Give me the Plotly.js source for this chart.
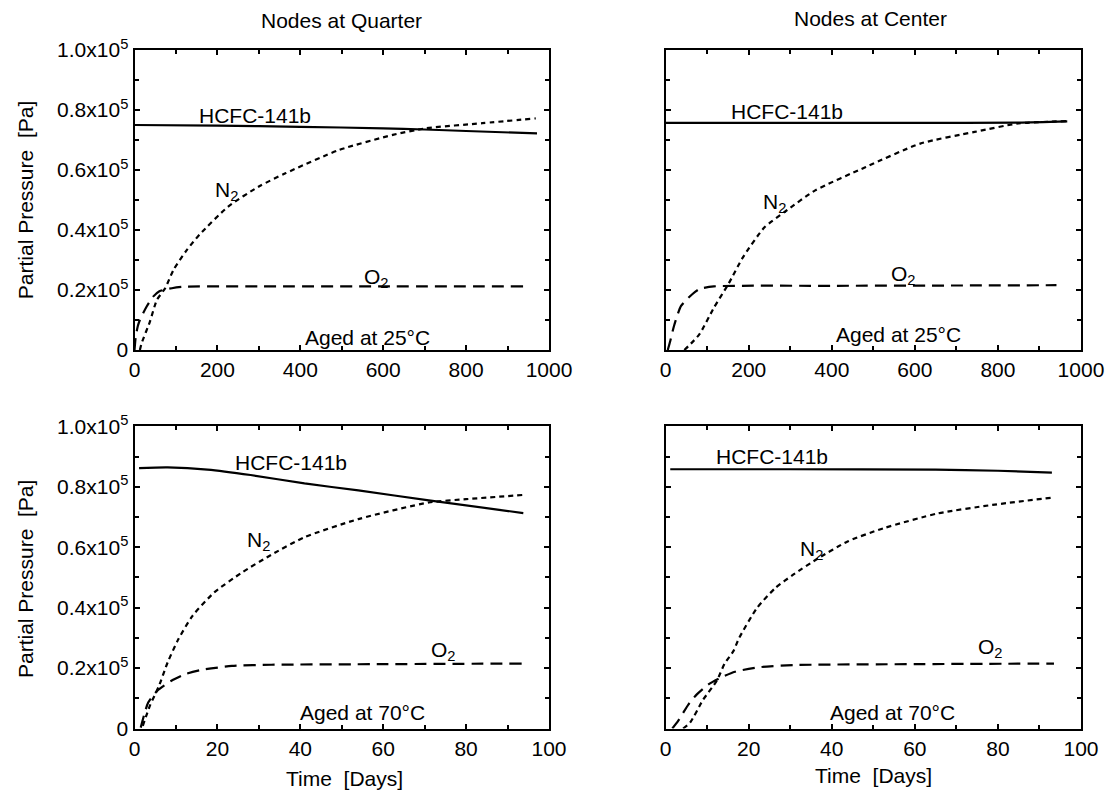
<!DOCTYPE html>
<html>
<head>
<meta charset="utf-8">
<script src="https://cdn.plot.ly/plotly-3.0.1.min.js"></script>
<style>html,body{margin:0;padding:0;background:#fff;}#chart{width:1108px;height:791px;}</style>
</head>
<body>
<div id="chart"></div>
<script>
// ---------- DATA (partial pressure in units of 10^5 Pa) ----------
// Top-left: Nodes at Quarter, aged at 25°C (time axis 0–1000)
const q25_hcfc_t = [0, 200, 400, 600, 700, 800, 971];
const q25_hcfc_p = [0.750, 0.748, 0.744, 0.739, 0.735, 0.730, 0.722];
const q25_n2_t = [13, 17, 37, 54, 74, 94, 126, 157, 226, 300, 364, 494, 623, 703, 839, 968];
const q25_n2_p = [0.0, 0.022, 0.094, 0.167, 0.206, 0.267, 0.333, 0.385, 0.478, 0.545, 0.589, 0.667, 0.717, 0.739, 0.756, 0.772];
const q25_o2_t = [0, 3, 8, 13, 29, 45, 60, 90, 118, 300, 600, 938];
const q25_o2_p = [0.0, 0.045, 0.080, 0.100, 0.144, 0.178, 0.196, 0.206, 0.211, 0.212, 0.212, 0.212];

// Top-right: Nodes at Center, aged at 25°C
const c25_hcfc_t = [0, 300, 600, 850, 967];
const c25_hcfc_p = [0.757, 0.757, 0.757, 0.758, 0.762];
const c25_n2_t = [45, 81, 116, 151, 186, 238, 291, 360, 482, 613, 744, 849, 967];
const c25_n2_p = [0.0, 0.052, 0.141, 0.220, 0.309, 0.409, 0.465, 0.532, 0.610, 0.688, 0.727, 0.755, 0.763];
const c25_o2_t = [5, 11, 20, 37, 64, 81, 116, 400, 700, 941];
const c25_o2_p = [0.0, 0.030, 0.080, 0.147, 0.186, 0.203, 0.212, 0.214, 0.215, 0.216];

// Bottom-left: Nodes at Quarter, aged at 70°C (time axis 0–100 days)
const q70_hcfc_t = [1.1, 8, 17.6, 28, 41, 54, 71, 93.8];
const q70_hcfc_p = [0.862, 0.864, 0.857, 0.839, 0.811, 0.788, 0.755, 0.713];
const q70_n2_t = [2, 3.7, 5.9, 8, 10.6, 14, 19.2, 26, 33, 41, 54, 71, 80, 93.8];
const q70_n2_p = [0.009, 0.075, 0.141, 0.219, 0.296, 0.373, 0.450, 0.517, 0.575, 0.633, 0.693, 0.748, 0.759, 0.773];
const q70_o2_t = [1.5, 3.3, 5.5, 8.9, 12.3, 16.2, 23.5, 33, 60, 93.4];
const q70_o2_p = [0.003, 0.086, 0.125, 0.158, 0.180, 0.194, 0.207, 0.211, 0.213, 0.215];

// Bottom-right: Nodes at Center, aged at 70°C
const c70_hcfc_t = [1.1, 30, 65, 80, 93];
const c70_hcfc_p = [0.858, 0.858, 0.857, 0.853, 0.847];
const c70_n2_t = [4.2, 5.9, 9, 12.3, 14.2, 16.3, 17.7, 22, 26.4, 30.7, 36.8, 43.8, 52.5, 65.6, 78.7, 93];
const c70_n2_p = [0.0, 0.02, 0.095, 0.158, 0.215, 0.256, 0.300, 0.399, 0.465, 0.509, 0.564, 0.619, 0.663, 0.712, 0.740, 0.764];
const c70_o2_t = [1.6, 3, 5.5, 7.5, 10.3, 13.5, 16.7, 22.7, 30.7, 60, 93.5];
const c70_o2_p = [0.0, 0.025, 0.080, 0.113, 0.146, 0.170, 0.188, 0.203, 0.210, 0.213, 0.215];

// Tick values / labels
const yTickVals = [0, 0.2, 0.4, 0.6, 0.8, 1.0];
const yTickText = ['0', '0.2x10<sup>5</sup>', '0.4x10<sup>5</sup>', '0.6x10<sup>5</sup>', '0.8x10<sup>5</sup>', '1.0x10<sup>5</sup>'];
const xTicks25 = [0, 200, 400, 600, 800, 1000];
const xTicks70 = [0, 20, 40, 60, 80, 100];

// Text
const panelTitles = ['Nodes at Quarter', 'Nodes at Center'];
const yTitle = 'Partial Pressure&#160; [Pa]';
const xTitle = 'Time&#160; [Days]';
const gasLabels = ['HCFC-141b', 'N<sub>2</sub>', 'O<sub>2</sub>'];
const agedLabels = ['Aged at 25°C', 'Aged at 70°C'];

// ---------- STYLE ----------
const FONT = 'Liberation Sans, Arial, Helvetica, sans-serif';
const FS = 21;
const BLACK = '#000';

function line(x, y, xa, ya, dash) {
  return {x, y, xaxis: xa, yaxis: ya, type: 'scatter', mode: 'lines',
    line: {color: BLACK, width: 2.2, dash: dash, shape: 'spline', smoothing: 0.6},
    hoverinfo: 'skip'};
}
const SOLID = 'solid', N2D = '5px,4px', O2D = '12px,7px';

const traces = [
  line(q25_hcfc_t, q25_hcfc_p, 'x', 'y', SOLID),
  line(q25_n2_t, q25_n2_p, 'x', 'y', N2D),
  line(q25_o2_t, q25_o2_p, 'x', 'y', O2D),
  line(c25_hcfc_t, c25_hcfc_p, 'x2', 'y2', SOLID),
  line(c25_n2_t, c25_n2_p, 'x2', 'y2', N2D),
  line(c25_o2_t, c25_o2_p, 'x2', 'y2', O2D),
  line(q70_hcfc_t, q70_hcfc_p, 'x3', 'y3', SOLID),
  line(q70_n2_t, q70_n2_p, 'x3', 'y3', N2D),
  line(q70_o2_t, q70_o2_p, 'x3', 'y3', O2D),
  line(c70_hcfc_t, c70_hcfc_p, 'x4', 'y4', SOLID),
  line(c70_n2_t, c70_n2_p, 'x4', 'y4', N2D),
  line(c70_o2_t, c70_o2_p, 'x4', 'y4', O2D)
];

function xAxis(domain, anchor, ticks) {
  const max = ticks[ticks.length - 1];
  const step = ticks[1] - ticks[0];
  return {domain, anchor, range: [0, max], tickmode: 'array', tickvals: ticks,
    ticktext: ticks.map(String),
    ticks: 'inside', ticklen: 5, tickwidth: 1.5, tickcolor: BLACK,
    minor: {tickmode: 'linear', tick0: 0, dtick: step / 2, ticks: 'inside', ticklen: 4, tickwidth: 1.5, tickcolor: BLACK},
    showline: true, linecolor: BLACK, linewidth: 2, mirror: 'allticks',
    showgrid: false, zeroline: false,
    tickfont: {family: FONT, size: FS, color: BLACK}};
}
function yAxis(domain, anchor, labels) {
  return {domain, anchor, range: [0, 1], tickmode: 'array', tickvals: yTickVals, ticktext: yTickText,
    showticklabels: labels, ticks: 'inside', ticklen: 5, tickwidth: 1.5, tickcolor: BLACK,
    minor: {tickmode: 'linear', tick0: 0, dtick: 0.1, ticks: 'inside', ticklen: 4, tickwidth: 1.5, tickcolor: BLACK},
    showline: true, linecolor: BLACK, linewidth: 2, mirror: 'allticks',
    showgrid: false, zeroline: false,
    tickfont: {family: FONT, size: FS, color: BLACK}};
}

const XL = [0.1214, 0.4955], XR = [0.6008, 0.9756];
const YT = [0.5575, 0.9368], YB = [0.079, 0.461];

function ann(text, x, y, xref, yref, extra) {
  return Object.assign({text, x, y, xref, yref, showarrow: false,
    xanchor: 'center', yanchor: 'middle',
    font: {family: FONT, size: FS, color: BLACK}}, extra || {});
}

const annotations = [
  ann(gasLabels[0], 291, 0.783, 'x', 'y'),
  ann(gasLabels[1], 222, 0.53, 'x', 'y'),
  ann(gasLabels[2], 584, 0.239, 'x', 'y'),
  ann(agedLabels[0], 563, 0.042, 'x', 'y'),

  ann(gasLabels[0], 291, 0.794, 'x2', 'y2'),
  ann(gasLabels[1], 262, 0.49, 'x2', 'y2'),
  ann(gasLabels[2], 572, 0.25, 'x2', 'y2'),
  ann(agedLabels[0], 561, 0.052, 'x2', 'y2'),

  ann(gasLabels[0], 37.8, 0.881, 'x3', 'y3'),
  ann(gasLabels[1], 30, 0.62, 'x3', 'y3'),
  ann(gasLabels[2], 74.5, 0.255, 'x3', 'y3'),
  ann(agedLabels[1], 55, 0.053, 'x3', 'y3'),

  ann(gasLabels[0], 25.5, 0.899, 'x4', 'y4'),
  ann(gasLabels[1], 35, 0.59, 'x4', 'y4'),
  ann(gasLabels[2], 78.3, 0.265, 'x4', 'y4'),
  ann(agedLabels[1], 54.7, 0.053, 'x4', 'y4'),

  ann(panelTitles[0], 0.3078, 0.9747, 'paper', 'paper'),
  ann(panelTitles[1], 0.786, 0.977, 'paper', 'paper'),
  ann(yTitle, 0.0226, 0.747, 'paper', 'paper', {textangle: -90}),
  ann(yTitle, 0.0226, 0.268, 'paper', 'paper', {textangle: -90}),
  ann(xTitle, 0.311, 0.0164, 'paper', 'paper'),
  ann(xTitle, 0.788, 0.0202, 'paper', 'paper')
];

const layout = {
  width: 1108, height: 791,
  margin: {l: 0, r: 0, t: 0, b: 0, pad: 0},
  paper_bgcolor: '#fff', plot_bgcolor: '#fff',
  showlegend: false,
  font: {family: FONT, size: FS, color: BLACK},
  xaxis: xAxis(XL, 'y', xTicks25),
  yaxis: yAxis(YT, 'x', true),
  xaxis2: xAxis(XR, 'y2', xTicks25),
  yaxis2: yAxis(YT, 'x2', false),
  xaxis3: xAxis(XL, 'y3', xTicks70),
  yaxis3: yAxis(YB, 'x3', true),
  xaxis4: xAxis(XR, 'y4', xTicks70),
  yaxis4: yAxis(YB, 'x4', false),
  annotations
};

Plotly.newPlot('chart', traces, layout, {displayModeBar: false});
</script>
</body>
</html>
